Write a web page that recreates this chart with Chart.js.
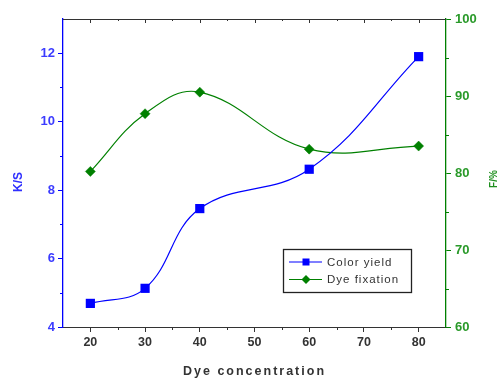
<!DOCTYPE html>
<html lang="en">
<head>
    <meta charset="UTF-8">
    <title>Color yield and dye fixation</title>
    <script src="https://cdn.jsdelivr.net/npm/chart.js@4.4.0/dist/chart.umd.min.js"></script>
    <style>
        body { margin: 0; background: #fff; }
        canvas { display: block; }
    </style>
</head>
<body>
    <canvas id="grafico" width="502" height="380"></canvas>

    <script>
        // Data
        const concentration = [20, 30, 40, 60, 80];
        const colorYield = [4.69, 5.13, 7.46, 8.61, 11.9];     // K/S
        const dyeFixation = [80.2, 87.7, 90.5, 83.1, 83.5];    // F/%

        const xTicks = [20, 30, 40, 50, 60, 70, 80];
        const ksTicks = [4, 6, 8, 10, 12];
        const fTicks = [60, 70, 80, 90, 100];

        const AZUL = '#0000ff';
        const VERDE = '#008000';
        const GRIS = '#333333';
        const FUENTE = '"Liberation Sans", Arial, sans-serif';

        const puntos = (ys) => concentration.map((x, i) => ({ x, y: ys[i] }));

        // Ticks fijos (solo los mayores llevan etiqueta)
        const fijarTicks = (valores) => (scale) => {
            scale.ticks = valores.map(v => ({ value: v }));
        };

        // Marcos, ticks menores, titulos y leyenda
        const marco = {
            id: 'marco',
            afterDraw(chart) {
                const { ctx, chartArea: a, scales } = chart;
                const x = scales.x, y = scales.y, y1 = scales.y1;
                ctx.save();

                // borde superior con ticks hacia dentro
                ctx.strokeStyle = GRIS;
                ctx.lineWidth = 1;
                ctx.beginPath();
                ctx.moveTo(a.left, a.top + 0.5);
                ctx.lineTo(a.right, a.top + 0.5);
                for (let v = 20; v <= 80; v += 5) {
                    const px = Math.round(x.getPixelForValue(v)) + 0.5;
                    ctx.moveTo(px, a.top);
                    ctx.lineTo(px, a.top + (v % 10 === 0 ? 4 : 2));
                }
                // ticks menores inferiores
                for (let v = 25; v <= 75; v += 10) {
                    const px = Math.round(x.getPixelForValue(v)) + 0.5;
                    ctx.moveTo(px, a.bottom);
                    ctx.lineTo(px, a.bottom + 3);
                }
                ctx.stroke();

                // ticks menores izquierda
                ctx.strokeStyle = AZUL;
                ctx.beginPath();
                for (let v = 5; v <= 11; v += 2) {
                    const py = Math.round(y.getPixelForValue(v)) + 0.5;
                    ctx.moveTo(a.left, py);
                    ctx.lineTo(a.left - 3, py);
                }
                ctx.stroke();

                // ticks menores derecha
                ctx.strokeStyle = VERDE;
                ctx.beginPath();
                for (let v = 65; v <= 95; v += 10) {
                    const py = Math.round(y1.getPixelForValue(v)) + 0.5;
                    ctx.moveTo(a.right, py);
                    ctx.lineTo(a.right + 3, py);
                }
                ctx.stroke();

                // titulos de ejes
                ctx.letterSpacing = '2px';
                ctx.font = 'bold 12.5px ' + FUENTE;
                ctx.fillStyle = GRIS;
                ctx.textAlign = 'center';
                ctx.textBaseline = 'middle';
                ctx.fillText('Dye concentration', (a.left + a.right) / 2, 372);

                ctx.letterSpacing = '0px';
                ctx.save();
                ctx.translate(19, 182);
                ctx.rotate(-Math.PI / 2);
                ctx.fillStyle = '#3030ff';
                ctx.font = 'bold 12px ' + FUENTE;
                ctx.fillText('K/S', 0, 0);
                ctx.restore();

                ctx.save();
                ctx.translate(494, 179);
                ctx.rotate(-Math.PI / 2);
                ctx.fillStyle = '#1f8f1f';
                ctx.font = 'bold 10px ' + FUENTE;
                ctx.fillText('F/%', 0, 0);
                ctx.restore();

                // leyenda
                const lx = 283, ly = 249, lw = 128, lh = 43;
                ctx.fillStyle = '#fff';
                ctx.fillRect(lx, ly, lw, lh);
                ctx.strokeStyle = '#222';
                ctx.lineWidth = 1.3;
                ctx.strokeRect(lx + 0.5, ly + 0.5, lw, lh);

                ctx.font = '11.5px ' + FUENTE;
                ctx.letterSpacing = '1px';
                ctx.textAlign = 'left';
                chart.data.datasets.forEach((ds, i) => {
                    const cy = ly + 13 + i * 17.5;
                    ctx.strokeStyle = ds.borderColor;
                    ctx.lineWidth = 1.2;
                    ctx.beginPath();
                    ctx.moveTo(lx + 6, cy);
                    ctx.lineTo(lx + 39, cy);
                    ctx.stroke();
                    ctx.fillStyle = ds.backgroundColor;
                    const mx = lx + 23;
                    ctx.beginPath();
                    if (ds.pointStyle === 'rect') {
                        ctx.rect(mx - 3.5, cy - 3.5, 7, 7);
                    } else {
                        ctx.moveTo(mx - 4.5, cy);
                        ctx.lineTo(mx, cy - 4.5);
                        ctx.lineTo(mx + 4.5, cy);
                        ctx.lineTo(mx, cy + 4.5);
                        ctx.closePath();
                    }
                    ctx.fill();
                    ctx.fillStyle = GRIS;
                    ctx.fillText(ds.label, lx + 44, cy + 0.5);
                });
                ctx.restore();
            }
        };

        new Chart(document.getElementById('grafico'), {
            type: 'line',
            data: {
                datasets: [
                    {
                        label: 'Color yield',
                        data: puntos(colorYield),
                        yAxisID: 'y',
                        borderColor: AZUL,
                        backgroundColor: AZUL,
                        borderWidth: 1.2,
                        pointStyle: 'rect',
                        pointRadius: 6.5,
                        pointBorderWidth: 0,
                        tension: 0.4
                    },
                    {
                        label: 'Dye fixation',
                        data: puntos(dyeFixation),
                        yAxisID: 'y1',
                        borderColor: VERDE,
                        backgroundColor: VERDE,
                        borderWidth: 1.2,
                        pointStyle: 'rectRot',
                        pointRadius: 5,
                        pointBorderWidth: 0.5,
                        tension: 0.4
                    }
                ]
            },
            options: {
                responsive: false,
                animation: false,
                layout: { padding: { top: 19, left: 0, right: 0, bottom: 0 } },
                plugins: { legend: { display: false }, tooltip: { enabled: false } },
                scales: {
                    x: {
                        type: 'linear',
                        position: 'bottom',
                        min: 15,
                        max: 85,
                        afterBuildTicks: fijarTicks(xTicks),
                        afterFit: (s) => { s.height = 53; },
                        border: { color: GRIS, width: 1 },
                        grid: { drawOnChartArea: false, tickLength: 5, tickColor: GRIS },
                        ticks: {
                            color: GRIS,
                            padding: 3,
                            font: { family: FUENTE, size: 12.5, weight: 'bold' }
                        }
                    },
                    y: {
                        position: 'left',
                        min: 4,
                        max: 13,
                        afterBuildTicks: fijarTicks(ksTicks),
                        afterFit: (s) => { s.width = 63; },
                        border: { color: AZUL, width: 1.3 },
                        grid: { drawOnChartArea: false, tickLength: 5, tickColor: AZUL },
                        ticks: {
                            color: '#3c3cff',
                            padding: 3,
                            font: { family: FUENTE, size: 13, weight: 'bold' }
                        }
                    },
                    y1: {
                        position: 'right',
                        min: 60,
                        max: 100,
                        afterBuildTicks: fijarTicks(fTicks),
                        afterFit: (s) => { s.width = 56; },
                        border: { color: VERDE, width: 1.3 },
                        grid: { drawOnChartArea: false, tickLength: 5, tickColor: VERDE },
                        ticks: {
                            color: '#2a9a2a',
                            padding: 4,
                            font: { family: FUENTE, size: 13, weight: 'bold' }
                        }
                    }
                }
            },
            plugins: [marco]
        });
    </script>
</body>
</html>
